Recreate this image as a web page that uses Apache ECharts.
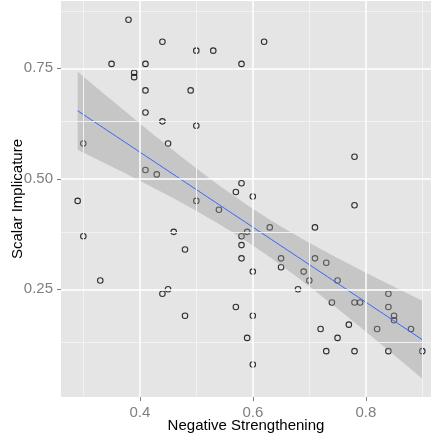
<!DOCTYPE html>
<html>
<head>
<meta charset="utf-8">
<script src="https://cdn.jsdelivr.net/npm/echarts@6/dist/echarts.min.js"></script>
<style>html,body{margin:0;padding:0;background:#fff;}#c{width:431px;height:437px;}</style>
</head>
<body>
<div id="c"></div>
<script>
// Data
var negStrengthening = [0.29,0.30,0.30,0.33,0.35,0.38,0.39,0.39,0.41,0.41,0.41,0.41,0.43,0.44,0.44,0.44,0.45,0.45,0.46,0.48,0.48,0.49,0.50,0.50,0.50,0.53,0.54,0.57,0.57,0.58,0.58,0.58,0.58,0.58,0.59,0.59,0.60,0.60,0.60,0.60,0.62,0.63,0.65,0.65,0.68,0.69,0.70,0.71,0.71,0.72,0.73,0.73,0.74,0.75,0.75,0.77,0.78,0.78,0.78,0.78,0.79,0.82,0.84,0.84,0.84,0.85,0.85,0.88,0.90];
var scalarImplicature = [0.45,0.58,0.37,0.27,0.76,0.86,0.74,0.73,0.76,0.70,0.65,0.52,0.51,0.81,0.63,0.24,0.58,0.25,0.38,0.34,0.19,0.70,0.79,0.62,0.45,0.79,0.43,0.47,0.21,0.76,0.49,0.37,0.35,0.32,0.38,0.14,0.46,0.29,0.19,0.08,0.81,0.39,0.32,0.30,0.25,0.29,0.27,0.39,0.32,0.16,0.31,0.11,0.22,0.27,0.14,0.17,0.55,0.44,0.22,0.11,0.22,0.16,0.24,0.21,0.11,0.19,0.18,0.16,0.11];
var xTicks = [0.4, 0.6, 0.8];
var xMinorTicks = [0.3, 0.5, 0.7, 0.9];
var yTicks = [0.25, 0.50, 0.75];
var yMinorTicks = [0.125, 0.375, 0.625, 0.875];
var xName = 'Negative Strengthening';
var yName = 'Scalar Implicature';

var points = negStrengthening.map(function(x,i){return [x, scalarImplicature[i]];});

// linear model with 95% confidence band (like geom_smooth(method="lm"))
var n = points.length, mx = 0, my = 0;
points.forEach(function(p){mx += p[0]; my += p[1];});
mx /= n; my /= n;
var sxx = 0, sxy = 0;
points.forEach(function(p){sxx += (p[0]-mx)*(p[0]-mx); sxy += (p[0]-mx)*(p[1]-my);});
var slope = sxy/sxx, intercept = my - slope*mx;
var sse = 0;
points.forEach(function(p){var r = p[1]-(intercept+slope*p[0]); sse += r*r;});
var s = Math.sqrt(sse/(n-2));
var tq = 1.996;
var xLo = Math.min.apply(null, negStrengthening), xHi = Math.max.apply(null, negStrengthening);
var band = [];
for (var k = 0; k <= 80; k++) {
  var x0 = xLo + (xHi-xLo)*k/80;
  var f = intercept + slope*x0;
  var se = s*Math.sqrt(1/n + (x0-mx)*(x0-mx)/sxx);
  band.push([x0, f, f - tq*se, f + tq*se]);
}
var fitLine = band.map(function(b){return [b[0], b[1]];});

var labelColor = '#7F7F7F';
var font = 'Liberation Sans, Arial, sans-serif';

var chart = echarts.init(document.getElementById('c'), null, {renderer:'canvas'});
chart.setOption({
  animation: false,
  backgroundColor: '#FFFFFF',
  grid: {left: 61, right: 0, top: 1, bottom: 40, show: true, backgroundColor: '#E5E5E5', borderWidth: 0,
    containLabel: false, outerBoundsMode: 'none'},
  xAxis: {
    type: 'value', min: 0.2605, max: 0.9154,
    name: xName, nameLocation: 'middle', nameGap: 21, nameMoveOverlap: false,
    nameTextStyle: {color: '#000', fontSize: 15, fontFamily: font},
    axisLine: {show: false},
    axisTick: {show: true, length: 4, customValues: xTicks, lineStyle: {color: labelColor, width: 1}},
    axisLabel: {customValues: xTicks, margin: 8, color: labelColor, fontSize: 15, fontFamily: font,
      formatter: function(v){return v.toFixed(1);}},
    splitLine: {show: false}
  },
  yAxis: {
    type: 'value', min: 0.0063, max: 0.9023,
    name: yName, nameLocation: 'middle', nameGap: 36, nameMoveOverlap: false,
    nameTextStyle: {color: '#000', fontSize: 15, fontFamily: font},
    axisLine: {show: false},
    axisTick: {show: true, length: 4, customValues: yTicks, lineStyle: {color: labelColor, width: 1}},
    axisLabel: {customValues: yTicks, margin: 8, color: labelColor, fontSize: 15, fontFamily: font,
      formatter: function(v){return v.toFixed(2);}},
    splitLine: {show: false}
  },
  series: [
    {
      type: 'line', data: [], silent: true, z: 0,
      markLine: {
        silent: true, symbol: ['none','none'], label: {show: false}, animation: false,
        data: xMinorTicks.map(function(v){return {xAxis: v, lineStyle:{color:'#F2F2F2', width:1, type:'solid'}};})
          .concat(yMinorTicks.map(function(v){return {yAxis: v, lineStyle:{color:'#F2F2F2', width:1, type:'solid'}};}))
          .concat(xTicks.map(function(v){return {xAxis: v, lineStyle:{color:'#FFFFFF', width:1.5, type:'solid'}};}))
          .concat(yTicks.map(function(v){return {yAxis: v, lineStyle:{color:'#FFFFFF', width:1.5, type:'solid'}};}))
      }
    },
    {
      type: 'scatter', data: points, z: 2, symbol: 'circle', symbolSize: 5.5,
      itemStyle: {color: 'rgba(0,0,0,0)', borderColor: '#000', borderWidth: 1.1}
    },
    {
      type: 'custom', z: 3, data: [0], silent: true,
      renderItem: function(params, api){
        var pts = [];
        band.forEach(function(b){pts.push(api.coord([b[0], b[3]]));});
        for (var i = band.length-1; i >= 0; i--) pts.push(api.coord([band[i][0], band[i][2]]));
        return {type: 'polygon', shape: {points: pts}, style: {fill: 'rgba(153,153,153,0.4)', stroke: null}};
      }
    },
    {
      type: 'line', data: fitLine, z: 4, showSymbol: false, silent: true,
      lineStyle: {color: '#3366FF', width: 1}
    }
  ]
});
</script>
</body>
</html>
